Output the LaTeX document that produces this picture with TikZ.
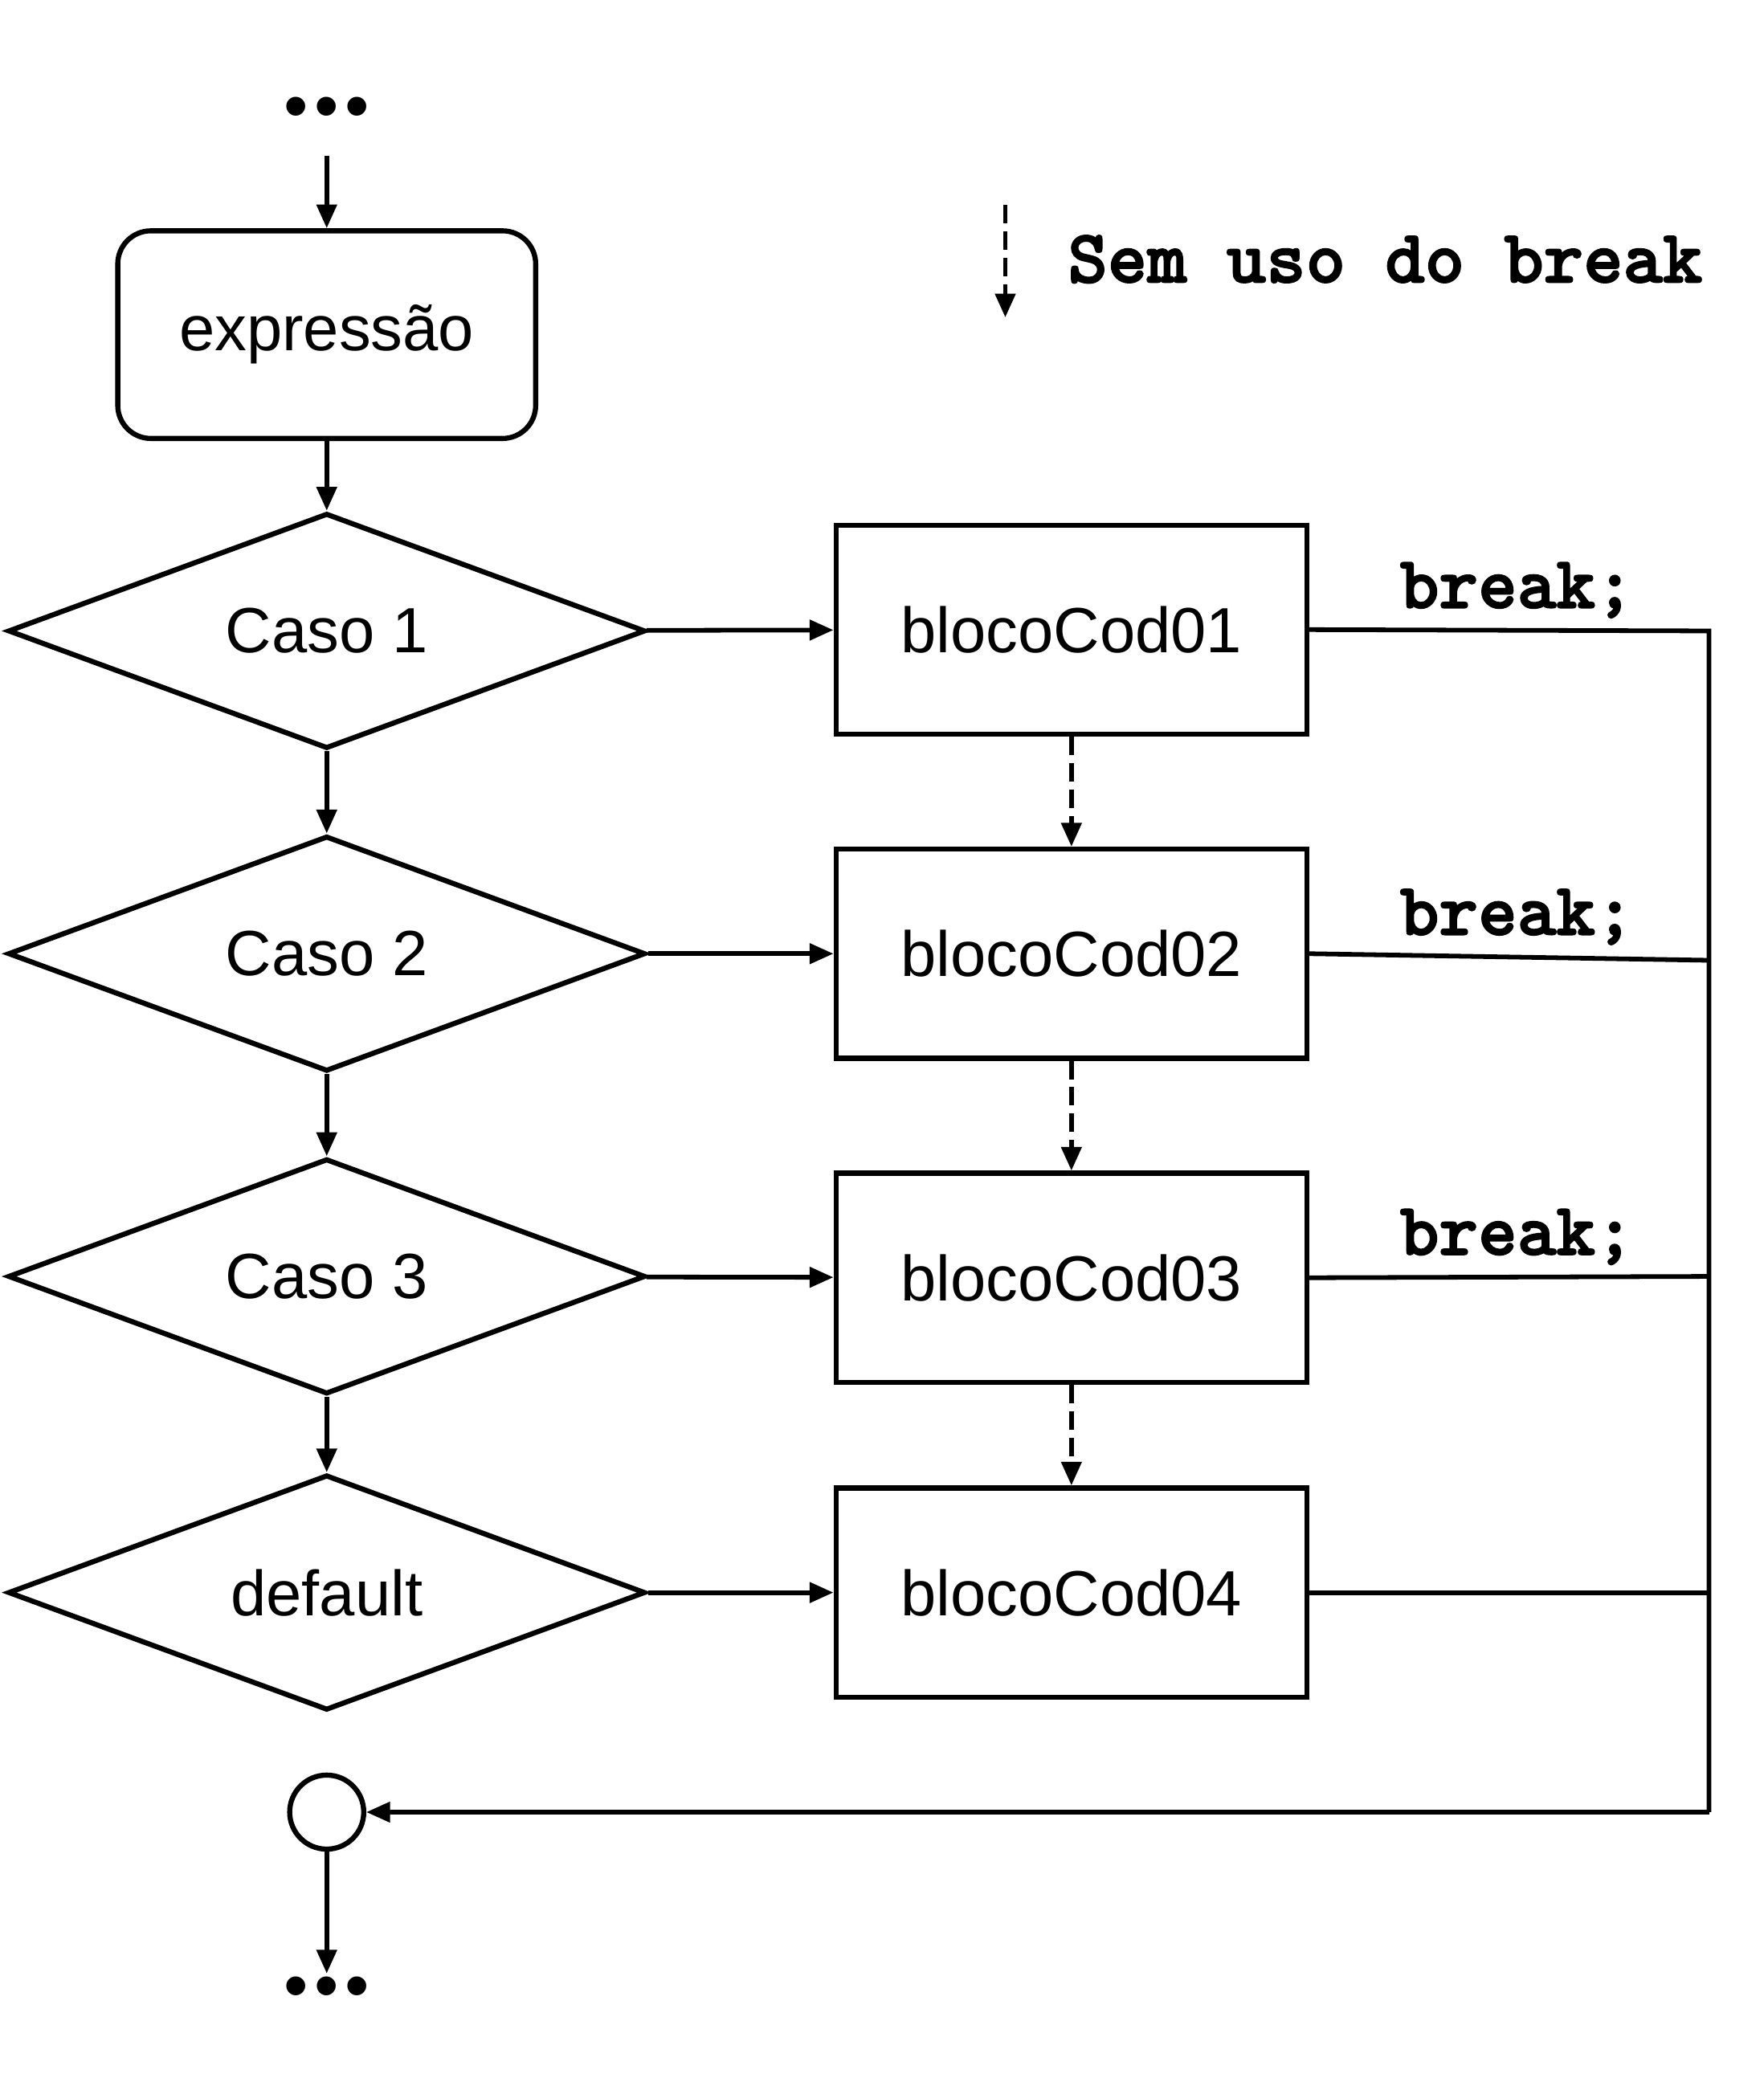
\documentclass[tikz,border=0pt]{standalone}
\usepackage{fontspec}
\setmainfont{Liberation Sans}
\newfontfamily\codefont[FakeBold=2]{lmmonolt10-bold.otf}
\usetikzlibrary{arrows.meta,shapes.geometric}

\tikzset{
  arr/.style={line width=2pt,-{Triangle[length=0.36cm,width=0.3cm]}},
  dasharr/.style={arr,dash pattern=on 0.28cm off 0.12cm},
  fio/.style={line width=2pt},
  caso/.style={diamond,draw,line width=2.2pt,minimum width=9.64cm,minimum height=3.56cm,shape aspect=2.7,inner sep=0pt},
  bloco/.style={rectangle,draw,line width=2.2pt,minimum width=7.12cm,minimum height=3.16cm},
  brk/.style={font=\codefont\fontsize{32}{34}\selectfont,above=1pt},
  pontos/.style={font=\fontsize{30}{30}\selectfont,inner sep=0pt}
}

\begin{document}
\begin{tikzpicture}[x=0.02cm,y=-0.02cm,font=\fontsize{27.5}{33}\selectfont]
\useasboundingbox (0,0) rectangle (1333,1568);

% entrada
\node[pontos] (ini) at (247,86) {•\hspace{2.5pt}•\hspace{2.5pt}•};
\node[draw,line width=2.2pt,rounded corners=0.5cm,minimum width=6.32cm,minimum height=3.14cm] (expr) at (247,253) {expressão};

% casos
\node[caso] (c1) at (247,477) {Caso 1};
\node[caso] (c2) at (247,721) {Caso 2};
\node[caso] (c3) at (247,965) {Caso 3};
\node[caso] (c4) at (247,1204) {default};

% blocos
\node[bloco] (b1) at (810,476) {blocoCod01};
\node[bloco] (b2) at (810,721) {blocoCod02};
\node[bloco] (b3) at (810,966) {blocoCod03};
\node[bloco] (b4) at (810,1204) {blocoCod04};

% juncao e saida
\node[circle,draw,line width=2.2pt,minimum size=1.12cm,inner sep=0pt] (junta) at (247,1370) {};
\node[pontos] (fim) at (247,1507) {•\hspace{2.5pt}•\hspace{2.5pt}•};

\coordinate (r1) at (1292,477);
\coordinate (r2) at (1292,726);
\coordinate (r3) at (1292,965);
\coordinate (r4) at (1292,1204);
\coordinate (r5) at (1292,1370);

% legenda
\coordinate (lg1) at (760,155);
\coordinate (lg2) at (760,240);
\draw[dasharr] (lg1) -- (lg2);
\node[anchor=west,font=\codefont\fontsize{32.5}{34}\selectfont,inner sep=0pt] (leg) at (807,196) {Sem uso do break};

\draw[arr] (ini.south) ++(0,19) -- (expr.north);
\draw[arr] (expr) -- (c1);
\draw[arr] (c1) -- (c2);
\draw[arr] (c2) -- (c3);
\draw[arr] (c3) -- (c4);

\draw[arr] (c1) -- (b1);
\draw[arr] (c2) -- (b2);
\draw[arr] (c3) -- (b3);
\draw[arr] (c4) -- (b4);

\draw[dasharr] (b1) -- (b2);
\draw[dasharr] (b2) -- (b3);
\draw[dasharr] (b3) -- (b4);

\draw[fio] (b1.east) -- node[brk,pos=0.52] {break;} (r1) -- (r5);
\draw[fio] (b2.east) -- node[brk,pos=0.52] {break;} (r2);
\draw[fio] (b3.east) -- node[brk,pos=0.52] {break;} (r3);
\draw[fio] (b4.east) -- (r4);
\draw[arr] (r5) -- (junta);
\draw[arr,shorten >=0.3cm] (junta) -- (fim.center);
\end{tikzpicture}
\end{document}
